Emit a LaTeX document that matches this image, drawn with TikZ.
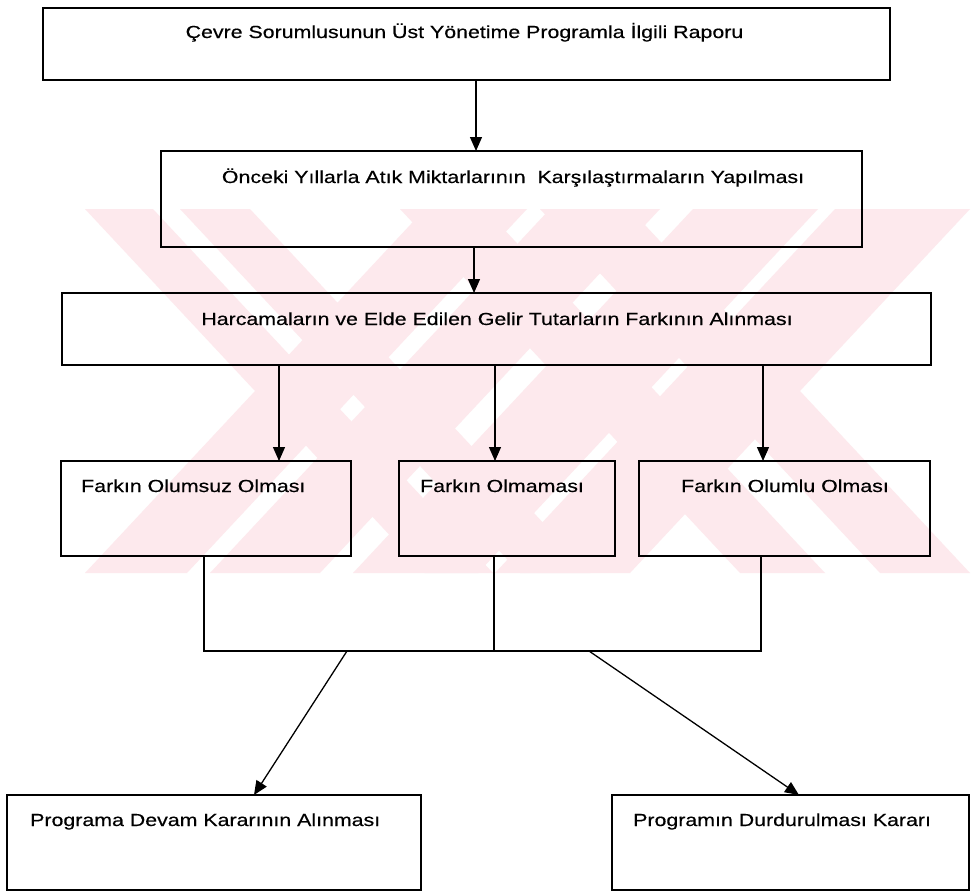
\documentclass[tikz,border=0pt]{standalone}
\usepackage{fontspec}
\setmainfont{Liberation Sans}[FakeStretch=1.22,FakeBold=0.4]
\usetikzlibrary{arrows.meta}
\definecolor{wmpink}{RGB}{253,233,237}
\begin{document}
\begin{tikzpicture}[x=1pt,y=-1pt,
  box/.style={draw=black, line width=1.6pt, rectangle, inner sep=0pt, outer sep=0pt},
  txt/.style={inner sep=0pt, anchor=base, font=\fontsize{17.5pt}{21pt}\selectfont},
  txtl/.style={txt, anchor=base west},
  conn/.style={line width=1.3pt},
  arr/.style={conn, -{Triangle[length=14pt,width=12pt]}}]
\useasboundingbox (0,0) rectangle (971,891);
\fill[white] (0,0) rectangle (971,891);

% background mark: two crossed pairs of diagonal bands
\begin{scope}
  \clip (0,209) rectangle (971,573);
  \foreach \a/\b in {85/153,180/250,400/485,540/630}
    \fill[wmpink] (\a,209) -- (\b,209) -- (\b+340,573) -- (\a+340,573) -- cycle;
  \foreach \a/\b in {425/527,550/660,693/818,835/970}
    \fill[wmpink] (\a,209) -- (\b,209) -- (\b-340,573) -- (\a-340,573) -- cycle;
\end{scope}

% boxes
\node[box, minimum width=847pt, minimum height=72pt] (b1) at (466.5,44) {};
\node[box, minimum width=701pt, minimum height=96pt] (b2) at (511.5,199) {};
\node[box, minimum width=869pt, minimum height=72pt] (b3) at (496.5,329) {};
\node[box, minimum width=290pt, minimum height=95pt] (bA) at (206,508.5) {};
\node[box, minimum width=216pt, minimum height=95pt] (bB) at (507,508.5) {};
\node[box, minimum width=291pt, minimum height=95pt] (bC) at (784.5,508.5) {};
\node[box, minimum width=414pt, minimum height=95pt] (bD) at (214,842.5) {};
\node[box, minimum width=357pt, minimum height=95pt] (bE) at (790.5,842.5) {};

% labels
\node[txt] (t1) at (464.5,38) {Çevre Sorumlusunun Üst Yönetime Programla İlgili Raporu};
\node[txt] (t2) at (513,183) {Önceki Yıllarla Atık Miktarlarının\ \ Karşılaştırmaların Yapılması};
\node[txt] (t3) at (497,325) {Harcamaların ve Elde Edilen Gelir Tutarların Farkının Alınması};
\node[txtl] (tA) at (81,492) {Farkın Olumsuz Olması};
\node[txtl] (tB) at (420,492) {Farkın Olmaması};
\node[txtl] (tC) at (681,492) {Farkın Olumlu Olması};
\node[txtl] (tD) at (30,826) {Programa Devam Kararının Alınması};
\node[txtl] (tE) at (633,826) {Programın Durdurulması Kararı};

% vertical arrows
\draw[arr] ([xshift=9.5pt]b1.south) -- ([xshift=-35.5pt]b2.north);
\draw[arr] ([xshift=-37.5pt]b2.south) -- ([xshift=-22.5pt]b3.north);
\draw[arr] ([xshift=-217.5pt]b3.south) -- ([xshift=73pt]bA.north);
\draw[arr] ([xshift=-1.5pt]b3.south) -- ([xshift=-12pt]bB.north);
\draw[arr] ([xshift=266.5pt]b3.south) -- ([xshift=-21.5pt]bC.north);

% joining lines
\coordinate (jA) at (204,651);
\coordinate (jB) at (494,651);
\coordinate (jC) at (761,651);
\draw[conn] ([xshift=-2pt]bA.south) -- (jA) -- (jC) -- ([xshift=-23.5pt]bC.south);
\draw[conn] ([xshift=-13pt]bB.south) -- (jB);

% decision arrows
\coordinate (s1) at (347,651);
\coordinate (s2) at (589,651);
\draw[arr] (s1) -- ([xshift=40pt]bD.north);
\draw[arr] (s2) -- ([xshift=8.5pt]bE.north);
\end{tikzpicture}
\end{document}
